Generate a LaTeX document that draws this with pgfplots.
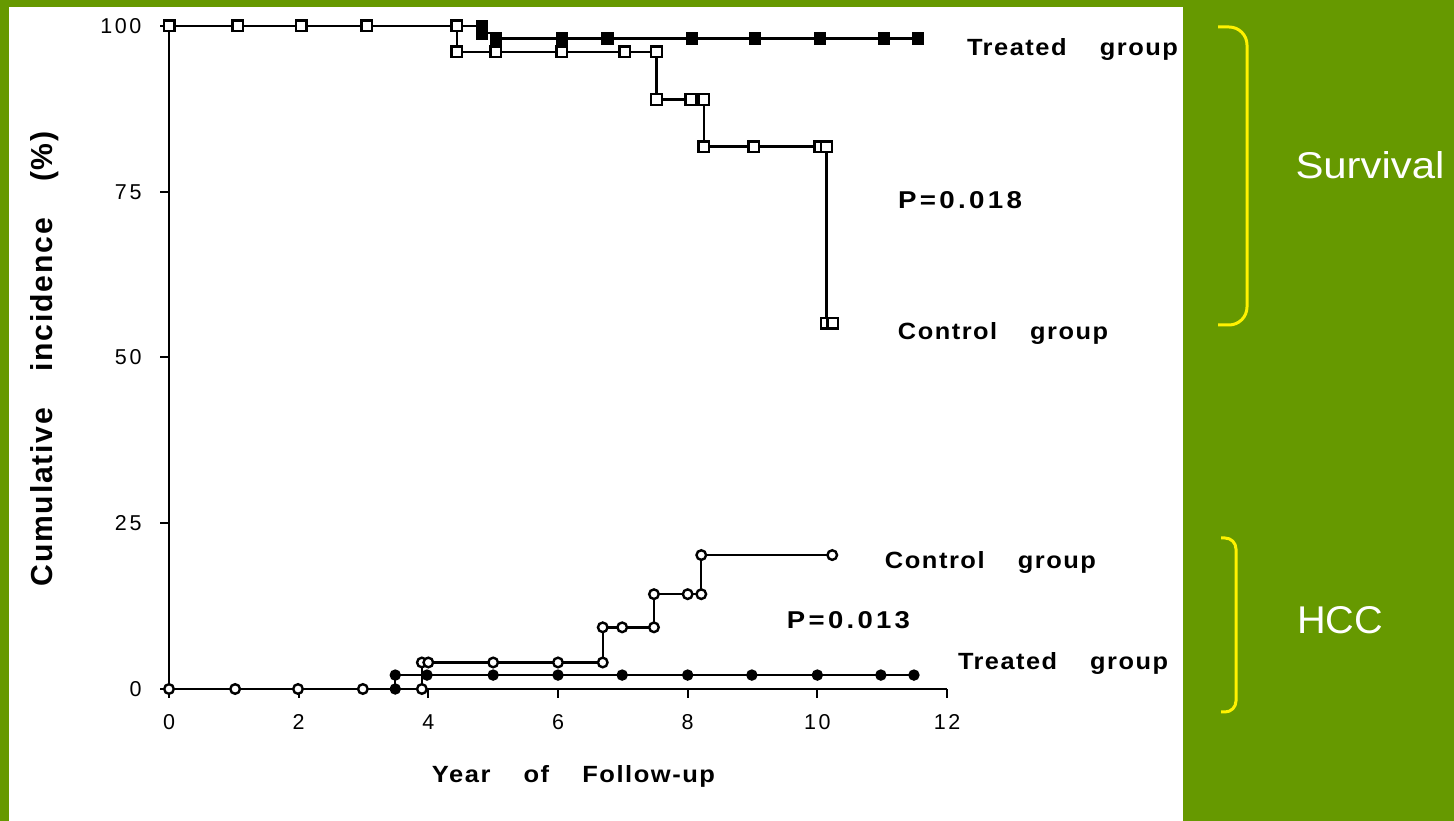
\documentclass[border=0pt]{standalone}
\usepackage{fontspec}
\setmainfont{Liberation Sans}
\newfontfamily\lsp[LetterSpace=12]{Liberation Sans}
\newfontfamily\lst[LetterSpace=6]{Liberation Sans}
\usepackage{graphicx}
\usepackage{pgfplots}
\pgfplotsset{compat=1.18}
\definecolor{bggreen}{RGB}{102,153,0}
\begin{document}
\begin{tikzpicture}
\useasboundingbox (0bp,0bp) rectangle (1454bp,821bp);
\fill[bggreen] (0bp,0bp) rectangle (1454bp,821bp);
\fill[white] (9bp,0bp) rectangle (1183bp,814bp);
\begin{axis}[
  at={(169bp,132bp)}, anchor=south west,
  scale only axis, width=778bp, height=663bp,
  xmin=0, xmax=12, ymin=0, ymax=100,
  axis x line=bottom, axis y line=left,
  axis line style={-, line width=2.2bp},
  xtick={0,2,4,6,8,10,12}, ytick={0,25,50,75,100},
  tick align=outside, major tick length=9bp,
  tick style={line width=2bp, black},
  tick label style={font=\lsp\fontsize{21.5bp}{24bp}\selectfont},
  yticklabel style={xshift=-15bp},
  xticklabel style={yshift=-13bp},
  /pgf/number format/assume math mode=true,
  clip=false,
]
% Survival, treated group (filled squares)
\addplot[const plot, line width=2.4bp, mark=square*, mark size=5.5bp,
  mark indices={2,3,5,6,7,8,9,10,11,12},
  mark options={solid, fill=black, line width=1.5bp}] coordinates {
  (0,100) (4.83,100) (4.83,98.9) (5.04,98.9) (5.04,98.1) (6.06,98.1)
  (6.76,98.1) (8.07,98.1) (9.04,98.1) (10.04,98.1) (11.03,98.1) (11.55,98.1)};
% Survival, control group (open squares)
\addplot[const plot, line width=2.4bp, mark=square*, mark size=5.3bp,
  mark options={solid, fill=white, line width=2.4bp}] coordinates {
  (0,100) (1.06,100) (2.04,100) (3.05,100) (4.44,100) (4.44,96.1)
  (5.04,96.1) (6.06,96.1) (7.03,96.1) (7.52,96.1) (7.52,88.9) (8.05,88.9)
  (8.25,88.9) (8.25,81.8) (9.02,81.8) (10.04,81.8) (10.14,81.8)
  (10.14,55.2) (10.24,55.2)};
% HCC, treated group (filled circles)
\addplot[const plot, line width=2.4bp, mark=*, mark size=5bp,
  mark indices={2,3,4,5,6,7,8,9,10,11,12},
  mark options={solid, fill=black, line width=1.4bp}] coordinates {
  (0,0) (3.49,0) (3.49,2.1) (3.98,2.1) (5.0,2.1) (6.0,2.1) (6.99,2.1)
  (8.0,2.1) (8.99,2.1) (10.0,2.1) (10.98,2.1) (11.49,2.1)};
% HCC, control group (open circles)
\addplot[const plot, line width=2.4bp, mark=*, mark size=4.8bp,
  mark options={solid, fill=white, line width=2.4bp}] coordinates {
  (0,0) (1.02,0) (1.99,0) (2.99,0) (3.9,0) (3.9,4.0) (4.0,4.0) (5.0,4.0)
  (6.0,4.0) (6.69,4.0) (6.69,9.3) (6.99,9.3) (7.48,9.3) (7.48,14.3)
  (8.0,14.3) (8.21,14.3) (8.21,20.2) (10.23,20.2)};
\end{axis}
% annotations
\node at (1072.5bp,772bp) {\resizebox{211bp}{17bp}{\lst\bfseries Treated\hspace{1.3em}group}};
\node at (960bp,621bp) {\resizebox{124bp}{17bp}{\lsp\bfseries P=0.018}};
\node at (1003bp,488bp) {\resizebox{210bp}{17bp}{\lst\bfseries Control\hspace{1.3em}group}};
\node at (990.5bp,259bp) {\resizebox{211bp}{17bp}{\lst\bfseries Control\hspace{1.3em}group}};
\node at (848.5bp,201bp) {\resizebox{123bp}{17bp}{\lsp\bfseries P=0.013}};
\node at (1063bp,158bp) {\resizebox{210bp}{17bp}{\lst\bfseries Treated\hspace{1.3em}group}};
\node at (573.5bp,45bp) {\resizebox{283bp}{17bp}{\lst\bfseries Year\hspace{1.3em}of\hspace{1.3em}Follow-up}};
\node[rotate=90] at (45bp,462bp) {\resizebox{455bp}{22bp}{\lst\bfseries Cumulative\hspace{1.2em}incidence\hspace{1.2em}(\%)}};
% braces and group names
\draw[yellow, line width=3bp, rounded corners=18bp]
  (1218bp,794bp) -- (1247bp,794bp) -- (1247bp,496bp) -- (1218bp,496bp);
\draw[yellow, line width=3bp, rounded corners=11bp]
  (1221bp,283bp) -- (1236bp,283bp) -- (1236bp,109bp) -- (1221bp,109bp);
\node[white] at (1370bp,656bp) {\resizebox{149bp}{27bp}{Survival}};
\node[white] at (1340bp,201bp) {\resizebox{86bp}{27bp}{HCC}};
\end{tikzpicture}
\end{document}
